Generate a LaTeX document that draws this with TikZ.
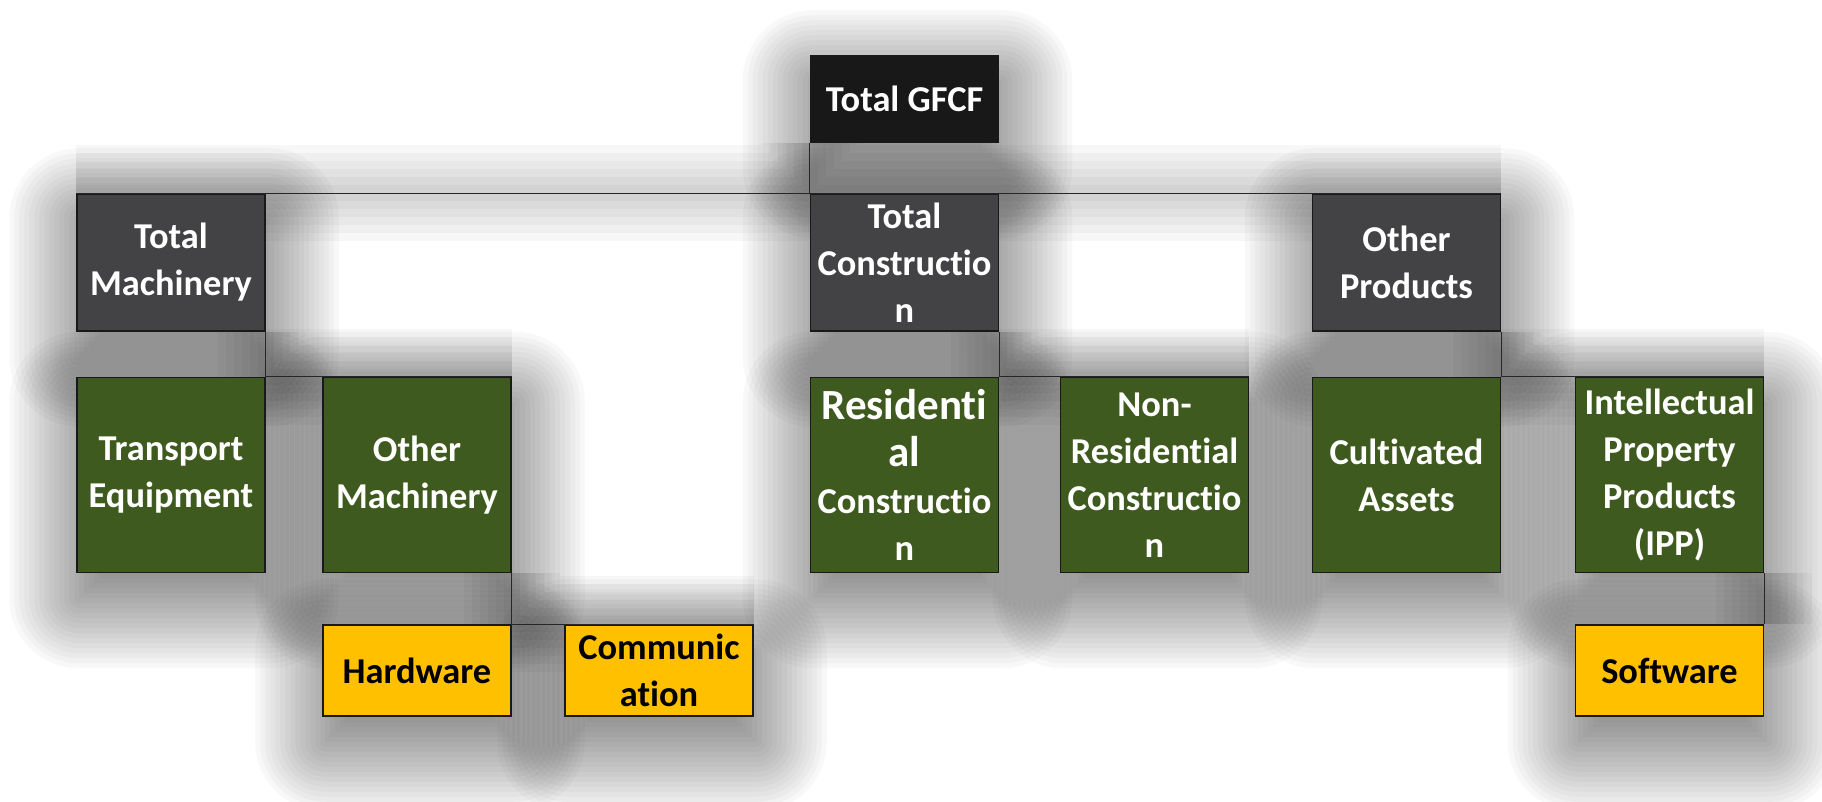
\documentclass[tikz,border=0pt]{standalone}
\usepackage{fontspec}
\setmainfont[Ligatures=NoCommon]{Carlito}
\usetikzlibrary{backgrounds}

\definecolor{topgray}{HTML}{181818}
\definecolor{midgray}{HTML}{434345}
\definecolor{leafgreen}{HTML}{3F5A1F}
\definecolor{amber}{HTML}{FFC000}

\tikzstyle{every node}=[draw=black!90,line width=.75pt,minimum width=94pt,inner sep=0pt,align=center,font=\bfseries\fontsize{18.2}{23.5}\selectfont]
\tikzstyle{gfcfbox}=[fill=topgray,text=white,minimum height=43pt]
\tikzstyle{groupbox}=[fill=midgray,text=white,minimum height=68.5pt]
\tikzstyle{itembox}=[fill=leafgreen,text=white,minimum height=97.5pt]
\tikzstyle{subbox}=[fill=amber,text=black,minimum height=45.5pt]
\tikzstyle{link}=[draw=black!85,line width=.6pt]
\tikzstyle{shadowfill}=[fill=black,opacity=.027]
\tikzstyle{linkshade}=[draw=black,opacity=.03,line join=round]

\newcommand{\resfont}{\fontsize{21.5}{25}\selectfont}

\begin{document}
\begin{tikzpicture}[x=.5pt, y=-.5pt]
\useasboundingbox (0,0) rectangle (1822,802);
%boxes
\node[gfcfbox] (gfcf) at (904.5,99) {Total GFCF};

\node[groupbox] (machinery) at (171,262.5) {Total\\Machinery};
\node[groupbox] (construction) at (904.5,262.5) {Total\\Constructio\\n};
\node[groupbox] (otherprod) at (1406.5,262.5) {Other\\Products};

\node[itembox] (transport) at (171,475) {Transport\\Equipment};
\node[itembox] (othermach) at (417,475) {Other\\Machinery};
\node[itembox] (resid) at (904.5,475) {\resfont Residenti\\\resfont al\\Constructio\\n};
\node[itembox] (nonresid) at (1154.5,475) {Non-\\Residential\\Constructio\\n};
\node[itembox] (cultivated) at (1406.5,475) {Cultivated\\Assets};
\node[itembox] (ipp) at (1669.5,475) {Intellectual\\Property\\Products\\(IPP)};

\node[subbox] (hardware) at (417,670.5) {Hardware};
\node[subbox] (communic) at (659,670.5) {Communic\\ation};
\node[subbox] (software) at (1669.5,670.5) {Software};

%shadows
\begin{scope}[on background layer]
\foreach \n in {gfcf,machinery,construction,otherprod,transport,othermach,resid,nonresid,cultivated,ipp,hardware,communic,software}
\foreach \e in {-20,-17.5,...,35}{
\pgfmathsetmacro\r{max(\e,0)}
\fill[shadowfill, rounded corners=\r pt] ([xshift=1.5pt-\e*1pt, yshift=\e*1pt-12.5pt]\n.north west) rectangle ([xshift=1.5pt+\e*1pt, yshift=-12.5pt-\e*1pt]\n.south east);
}
\end{scope}
\begin{scope}[on background layer, transform canvas={yshift=-10pt}]
\foreach \w in {8,16,...,48}
\draw[linkshade, line width=\w pt] (gfcf.south west) -- (construction.north west)
(machinery.north west) -- (otherprod.north east)
(machinery.south east) |- (othermach.north east)
(construction.south east) |- (nonresid.north east)
(otherprod.south east) |- (ipp.north east)
(othermach.south east) |- (communic.north east)
(ipp.south east) -- (software.north east);
\end{scope}

%lines
\draw[link] (gfcf.south west) -- (construction.north west)
(machinery.north west) -- (otherprod.north east)
(machinery.south east) |- (othermach.north east)
(construction.south east) |- (nonresid.north east)
(otherprod.south east) |- (ipp.north east)
(othermach.south east) |- (communic.north east)
(ipp.south east) -- (software.north east);
\end{tikzpicture}
\end{document}
